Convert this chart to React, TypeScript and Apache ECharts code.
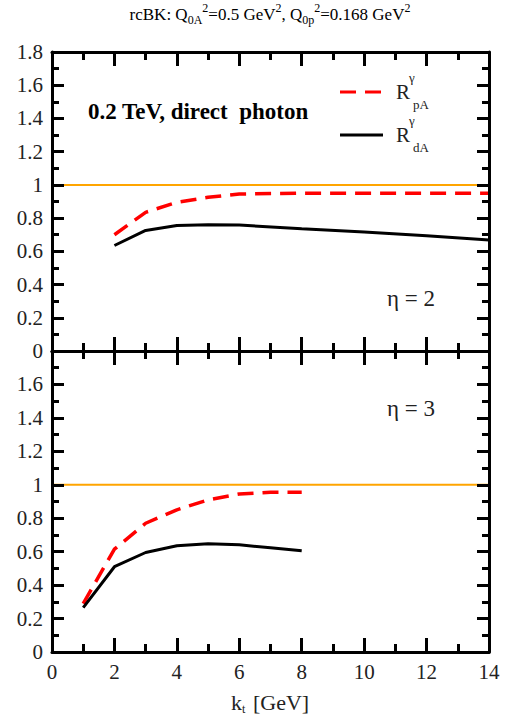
import React, { useEffect, useRef } from "react";
import * as echarts from "echarts";

const topKt = [2, 3, 4, 5, 6, 8, 10, 12, 14];
const topPA = [0.7, 0.835, 0.895, 0.925, 0.945, 0.95, 0.95, 0.95, 0.95];
const topDA = [0.635, 0.726, 0.756, 0.76, 0.758, 0.736, 0.716, 0.694, 0.668];

const botKt = [1, 2, 3, 4, 5, 6, 7, 8];
const botPA = [0.29, 0.615, 0.77, 0.85, 0.91, 0.945, 0.955, 0.955];
const botDA = [0.265, 0.51, 0.595, 0.635, 0.648, 0.641, 0.623, 0.605];

const unityKt = [0, 14];
const unityVal = [1, 1];

const xTicks = { min: 0, max: 14, interval: 2 };
const yTicks = { min: 0, max: 1.8, interval: 0.2 };

const FONT = "'Liberation Serif', 'Times New Roman', serif";

const zip = (xs: number[], ys: number[]) => xs.map((x, i) => [x, ys[i]]);

export default function App() {
  const ref = useRef<HTMLDivElement>(null);
  useEffect(() => {
    if (!ref.current) return;
    const chart = echarts.init(ref.current, null, { renderer: "svg" });

    const mkX = (gridIndex: number, position: "bottom" | "top", showLabel: boolean) => ({
      type: "value",
      gridIndex,
      position,
      min: xTicks.min,
      max: xTicks.max,
      interval: xTicks.interval,
      z: 5,
      axisLine: { show: true, onZero: false, lineStyle: { color: "#000", width: 3 } },
      axisTick: { show: true, inside: true, length: 14, lineStyle: { color: "#000", width: 3 } },
      minorTick: { show: true, splitNumber: 2, length: 8, lineStyle: { color: "#000", width: 3 } },
      splitLine: { show: false },
      axisLabel: { show: showLabel, margin: 9, color: "#222", fontSize: 21, fontFamily: FONT },
    });
    const mkY = (gridIndex: number, position: "left" | "right", showLabel: boolean, showMax: boolean) => ({
      type: "value",
      gridIndex,
      position,
      min: yTicks.min,
      max: yTicks.max,
      interval: yTicks.interval,
      z: 5,
      axisLine: { show: true, onZero: false, lineStyle: { color: "#000", width: 3 } },
      axisTick: { show: true, inside: true, length: 12, lineStyle: { color: "#000", width: 3 } },
      minorTick: { show: true, splitNumber: 2, length: 7, lineStyle: { color: "#000", width: 3 } },
      splitLine: { show: false },
      axisLabel: {
        show: showLabel,
        margin: 9,
        color: "#222",
        fontSize: 21,
        fontFamily: FONT,
        showMaxLabel: showMax,
        formatter: (v: number) => String(Math.round(v * 10) / 10),
      },
    });

    const redLine = (xi: number, yi: number, xs: number[], ys: number[]) => ({
      type: "line",
      xAxisIndex: xi,
      yAxisIndex: yi,
      data: zip(xs, ys),
      showSymbol: false,
      symbol: "none",
      lineStyle: { color: "#ff0000", width: 3.5, type: [16, 9] },
      z: 3,
    });
    const blackLine = (xi: number, yi: number, xs: number[], ys: number[]) => ({
      type: "line",
      xAxisIndex: xi,
      yAxisIndex: yi,
      data: zip(xs, ys),
      showSymbol: false,
      symbol: "none",
      lineStyle: { color: "#000", width: 3 },
      z: 3,
    });
    const orange = (xi: number, yi: number) => ({
      type: "line",
      xAxisIndex: xi,
      yAxisIndex: yi,
      data: zip(unityKt, unityVal),
      showSymbol: false,
      symbol: "none",
      lineStyle: { color: "#ffa500", width: 2 },
      z: 2,
    });

    const subSup = {
      sub: { fontSize: 12, fontFamily: FONT, color: "#222", verticalAlign: "bottom", lineHeight: 24 },
      sup: { fontSize: 12, fontFamily: FONT, color: "#222", verticalAlign: "top", lineHeight: 24 },
      n: { fontSize: 17, fontFamily: FONT, color: "#222", lineHeight: 24 },
    };

    chart.setOption({
      animation: false,
      backgroundColor: "#fff",
      grid: [
        { left: 52, width: 437, top: 52, height: 299 },
        { left: 52, width: 437, top: 351, height: 301 },
      ],
      xAxis: [mkX(0, "bottom", false), mkX(0, "top", false), mkX(1, "bottom", true), mkX(1, "top", false)],
      yAxis: [mkY(0, "left", true, true), mkY(0, "right", false, true), mkY(1, "left", true, false), mkY(1, "right", false, true)],
      series: [
        orange(0, 0),
        redLine(0, 0, topKt, topPA),
        blackLine(0, 0, topKt, topDA),
        orange(2, 2),
        redLine(2, 2, botKt, botPA),
        blackLine(2, 2, botKt, botDA),
      ],
      graphic: [
        {
          type: "text",
          x: 270,
          y: 14,
          style: {
            text: "{n|rcBK: Q}{sub|0A}{sup|2}{n|=0.5 GeV}{sup|2}{n|, Q}{sub|0p}{sup|2}{n|=0.168 GeV}{sup|2}",
            align: "center",
            verticalAlign: "middle",
            rich: subSup,
          },
        },
        {
          type: "text",
          x: 88,
          y: 111,
          style: { text: "0.2 TeV, direct  photon", fontSize: 23, fontWeight: "bold", fontFamily: FONT, fill: "#000", verticalAlign: "middle" },
        },
        { type: "line", shape: { x1: 340, y1: 92, x2: 382, y2: 92 }, style: { stroke: "#ff0000", lineWidth: 3, lineDash: [16, 9] } },
        { type: "line", shape: { x1: 340, y1: 135, x2: 383, y2: 135 }, style: { stroke: "#000", lineWidth: 3 } },
        { type: "text", x: 396, y: 92, style: { text: "R", fontSize: 21, fontFamily: FONT, fill: "#222", verticalAlign: "middle" } },
        { type: "text", x: 409, y: 77, style: { text: "γ", fontSize: 13, fontFamily: FONT, fill: "#222", verticalAlign: "middle" } },
        { type: "text", x: 413, y: 104, style: { text: "pA", fontSize: 13, fontFamily: FONT, fill: "#222", verticalAlign: "middle" } },
        { type: "text", x: 396, y: 135, style: { text: "R", fontSize: 21, fontFamily: FONT, fill: "#222", verticalAlign: "middle" } },
        { type: "text", x: 409, y: 120, style: { text: "γ", fontSize: 13, fontFamily: FONT, fill: "#222", verticalAlign: "middle" } },
        { type: "text", x: 413, y: 147, style: { text: "dA", fontSize: 13, fontFamily: FONT, fill: "#222", verticalAlign: "middle" } },
        { type: "text", x: 387, y: 298, style: { text: "η = 2", fontSize: 23, fontFamily: FONT, fill: "#222", verticalAlign: "middle" } },
        { type: "text", x: 387, y: 408, style: { text: "η = 3", fontSize: 23, fontFamily: FONT, fill: "#222", verticalAlign: "middle" } },
        { type: "text", x: 231, y: 702, style: { text: "k", fontSize: 22, fontFamily: FONT, fill: "#222", verticalAlign: "middle" } },
        { type: "text", x: 242, y: 709, style: { text: "t", fontSize: 12, fontFamily: FONT, fill: "#222", verticalAlign: "middle" } },
        { type: "text", x: 253, y: 702, style: { text: "[GeV]", fontSize: 22, fontFamily: FONT, fill: "#222", verticalAlign: "middle" } },
      ],
    });
    return () => chart.dispose();
  }, []);
  return <div ref={ref} style={{ width: 505, height: 717, position: "absolute", left: 0, top: 0 }} />;
}
